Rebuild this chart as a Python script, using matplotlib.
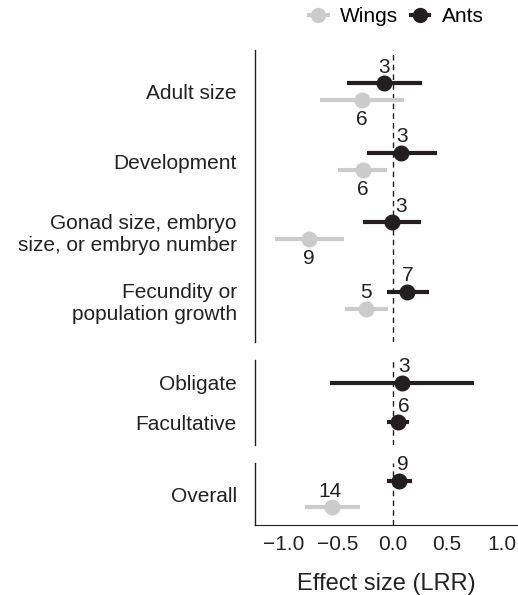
from matplotlib import pyplot as plt
from matplotlib.lines import Line2D
import numpy as np

plt.rcParams['font.family'] = ['Liberation Sans', 'DejaVu Sans']

# facet 1: trait categories
traits = ['Adult size', 'Development', 'Gonad size, embryo\nsize, or embryo number',
          'Fecundity or\npopulation growth']
ants_trait = [-0.075, 0.078, -0.008, 0.136]
ants_trait_lo = [-0.42, -0.237, -0.27, -0.053]
ants_trait_hi = [0.27, 0.405, 0.26, 0.33]
ants_trait_n = [3, 3, 3, 7]
wings_trait = [-0.28, -0.273, -0.763, -0.243]
wings_trait_lo = [-0.665, -0.497, -1.08, -0.436]
wings_trait_hi = [0.105, -0.053, -0.44, -0.044]
wings_trait_n = [6, 6, 9, 5]

# facet 2: symbiosis type (ants only)
symb = ['Obligate', 'Facultative']
ants_symb = [0.09, 0.05]
ants_symb_lo = [-0.573, -0.053]
ants_symb_hi = [0.75, 0.154]
ants_symb_n = [3, 6]

# facet 3: overall
overall = ['Overall']
ants_all = [0.06]
ants_all_lo = [-0.053]
ants_all_hi = [0.18]
ants_all_n = [9]
wings_all = [-0.55]
wings_all_lo = [-0.80]
wings_all_hi = [-0.295]
wings_all_n = [14]

GRAY = '#cbcbcb'
BLACK = '#231f20'
FS = 15

fig = plt.figure(figsize=(5.18, 5.95), dpi=100)
W = 518
H = 595
left = 255 / W
width = (518 - 255) / W
boxes = [(50, 342), (360, 445), (463, 525)]
axes = []
for top, bot in boxes:
    ax = fig.add_axes([left, 1 - bot / H, width, (bot - top) / H])
    axes.append(ax)


def pointrange(ax, est, lo, hi, n, color, above, off=0.0, nudge=None):
    y = np.arange(1, len(est) + 1) + off
    if nudge is None:
        nudge = [0] * len(est)
    ax.hlines(y, lo, hi, color=color, lw=3.0, zorder=3)
    ax.plot(est, y, 'o', color=color, ms=10.5, zorder=4)
    for i in range(len(est)):
        dy = 11.5 if above[i] else -14
        ax.annotate(str(n[i]), (est[i], y[i]), xytext=(nudge[i], dy), textcoords='offset points',
                    ha='center', va='center', fontsize=FS, color=BLACK, zorder=5)


# facet 1
pointrange(axes[0], wings_trait, wings_trait_lo, wings_trait_hi, wings_trait_n, GRAY,
           above=[False, False, False, True], off=0.122)
pointrange(axes[0], ants_trait, ants_trait_lo, ants_trait_hi, ants_trait_n, BLACK,
           above=[True] * 4, off=-0.122, nudge=[0, 1, 7, 0])
axes[0].set_yticks(np.arange(1, len(traits) + 1))
axes[0].set_yticklabels(traits)
axes[0].set_ylim(len(traits) + 0.6, 0.4)

# facet 2
pointrange(axes[1], ants_symb, ants_symb_lo, ants_symb_hi, ants_symb_n, BLACK,
           above=[True] * 2, nudge=[1, 4])
axes[1].set_yticks(np.arange(1, len(symb) + 1))
axes[1].set_yticklabels(symb)
axes[1].set_ylim(len(symb) + 0.58, 0.42)

# facet 3
pointrange(axes[2], wings_all, wings_all_lo, wings_all_hi, wings_all_n, GRAY,
           above=[True], off=0.26, nudge=[-2])
pointrange(axes[2], ants_all, ants_all_lo, ants_all_hi, ants_all_n, BLACK,
           above=[True], off=-0.26, nudge=[3])
axes[2].set_yticks([1])
axes[2].set_yticklabels(overall)
axes[2].set_ylim(1.6, 0.4)

for i, ax in enumerate(axes):
    ax.set_xlim(-1.26, 1.15)
    ax.axvline(0, color=BLACK, lw=1.0, ls=(0, (4, 3)), zorder=1)
    for s in ['top', 'right']:
        ax.spines[s].set_visible(False)
    ax.spines['left'].set_color(BLACK)
    ax.spines['left'].set_linewidth(1.0)
    ax.tick_params(axis='y', length=0, pad=13, labelsize=FS, colors='#222222')
    for lab in ax.get_yticklabels():
        lab.set_multialignment('right')
    if i < 2:
        ax.spines['bottom'].set_visible(False)
        ax.set_xticks([])
    else:
        ax.spines['bottom'].set_color(BLACK)
        ax.set_xticks([-1.0, -0.5, 0.0, 0.5, 1.0])
        ax.set_xticklabels(['\u22121.0', '\u22120.5', '0.0', '0.5', '1.0'])
        ax.tick_params(axis='x', length=0, labelsize=FS, colors='#222222', pad=7)
        ax.set_xlabel('Effect size (LRR)', fontsize=FS + 2, color='#222222', labelpad=14)

handles = [Line2D([], [], color=GRAY, lw=3, marker='o', ms=10),
           Line2D([], [], color=BLACK, lw=3, marker='o', ms=10)]
fig.legend(handles, ['Wings', 'Ants'], loc='center', bbox_to_anchor=(0.765, 1 - 17 / H),
           ncol=2, frameon=False, fontsize=FS, handlelength=0.9, handletextpad=0.6,
           columnspacing=0.6)

fig.savefig('out.png', dpi=100)
